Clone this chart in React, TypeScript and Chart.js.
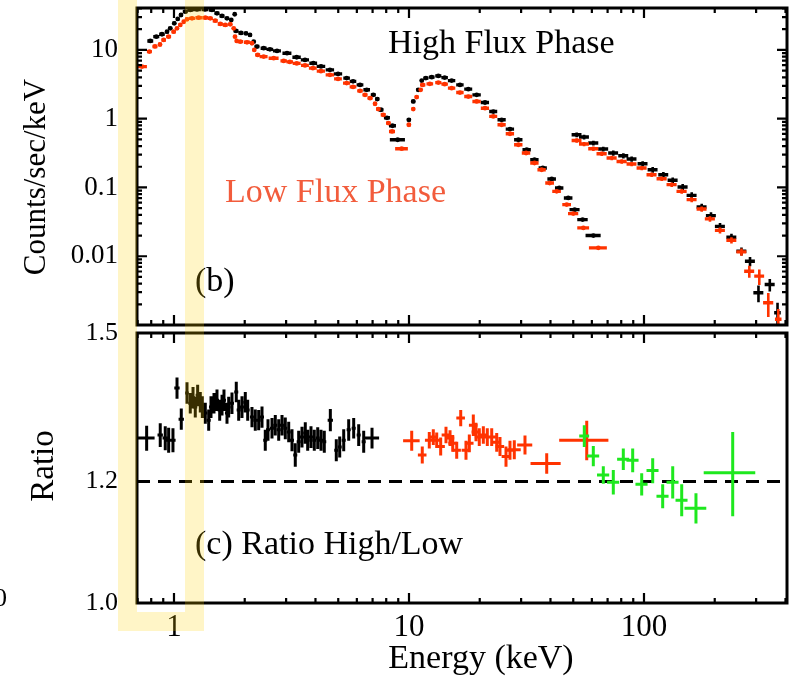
import React, { useEffect, useRef } from "react";
import { Chart, registerables } from "chart.js";

Chart.register(...registerables);

const FONT = "'Liberation Serif', 'Times New Roman', serif";
const BLACK = "#000000";
const RED = "#ff3300";
const GREEN = "#1ee81e";
const LABEL_RED = "#f25c3c";

// ---------------- axes ----------------
const xMin = 0.696;
const xMax = 406;
const yTopMin = 0.001;
const yTopMax = 40.7;
const ratioMin = 1.0;
const ratioMax = 1.5;
const xTickLabels = [1, 10, 100];
const yTopTickLabels = [0.01, 0.1, 1, 10];
const ratioTickLabels = [1.0, 1.2, 1.5];
const ratioRef = 1.2;

// ---------------- top panel: High Flux Phase (black) ----------------
// low-energy segment
const hiE1 = [0.793, 0.841, 0.889, 0.934, 0.964, 1.003, 1.037, 1.071, 1.117, 1.173, 1.253, 1.355, 1.451, 1.524, 1.601, 1.681, 1.753, 1.813, 1.836, 1.928, 2.025, 2.106, 2.184, 2.255, 2.408, 2.56, 2.744, 3.027, 3.327, 3.61, 3.915, 4.223, 4.61, 4.99, 5.43, 5.78, 6.19, 6.61, 7.05, 7.33, 7.6, 8.06, 8.51, 8.95];
const hiV1 = [13.5, 15.6, 16.9, 18.4, 20.6, 24.4, 28.2, 32.2, 36.0, 38.1, 38.8, 38.8, 38.1, 34.1, 31.2, 28.8, 27.25, 33.0, 18.9, 17.65, 17.4, 16.5, 13.2, 11.2, 10.6, 10.2, 9.67, 8.96, 7.83, 7.16, 6.41, 5.76, 5.13, 4.48, 3.89, 3.49, 3.1, 2.63, 2.22, 1.93, 1.35, 1.03, 0.789, 0.494];
const hiDE1 = [0.023, 0.025, 0.024, 0.018, 0.019, 0.018, 0.017, 0.021, 0.027, 0.034, 0.049, 0.046, 0.043, 0.037, 0.039, 0.036, 0.026, 0.018, 0.045, 0.047, 0.04, 0.037, 0.036, 0.055, 0.071, 0.083, 0.108, 0.133, 0.137, 0.145, 0.15, 0.178, 0.19, 0.205, 0.176, 0.187, 0.206, 0.214, 0.173, 0.144, 0.186, 0.237, 0.292, 0.66];
// middle segment
const hiE2 = [9.99, 10.43, 10.95, 11.33, 11.8, 12.5, 13.33, 14.19, 15.19, 16.48, 17.88, 19.41, 21.06, 22.84, 24.8, 26.9, 29.2, 31.7, 34.2, 37.1, 40.5, 43.6, 47.6, 50.7, 54.8, 60.9];
const hiV2 = [0.964, 1.78, 2.63, 3.58, 3.89, 4.02, 4.19, 3.96, 3.58, 3.1, 2.69, 2.22, 1.72, 1.27, 0.964, 0.706, 0.494, 0.354, 0.253, 0.192, 0.133, 0.0983, 0.0704, 0.0476, 0.0341, 0.02];
const hiDE2 = [0.2, 0.2, 0.2, 0.2, 0.3, 0.35, 0.4, 0.45, 0.55, 0.6, 0.7, 0.8, 0.85, 0.9, 1.0, 1.1, 1.2, 1.3, 1.4, 1.5, 1.7, 1.8, 2.0, 2.5, 2.8, 4.5];
// high-energy segment
const hiE3 = [51.7, 55.6, 60.9, 67.1, 74.0, 81.7, 88.6, 98.7, 108.9, 120.9, 132.5, 146.1, 159.6, 176.0, 192.8, 210.6, 235.6, 259.9, 282.6, 307, 343, 370];
const hiV3 = [0.584, 0.541, 0.443, 0.362, 0.317, 0.289, 0.259, 0.2215, 0.1813, 0.1534, 0.127, 0.1017, 0.0768, 0.0521, 0.039, 0.0272, 0.01887, 0.01182, 0.00846, 0.00294, 0.00388, 0.00151];
const hiDE3 = [2.5, 2.7, 3.0, 3.3, 3.6, 4.0, 4.3, 4.8, 5.3, 5.9, 6.5, 7.2, 7.8, 8.6, 9.4, 10.3, 11.5, 12.7, 13.8, 15.0, 16.8, 12.0];
const hiDV3 = [0.045, 0.042, 0.035, 0.03, 0.027, 0.025, 0.023, 0.02, 0.017, 0.015, 0.013, 0.011, 0.0085, 0.006, 0.0046, 0.0033, 0.0024, 0.0016, 0.0013, 0.0008, 0.0008, 0.0006];

// ---------------- top panel: Low Flux Phase (red) ----------------
const loE1 = [0.731, 0.786, 0.83, 0.872, 0.904, 0.949, 0.997, 1.03, 1.064, 1.1, 1.136, 1.193, 1.274, 1.359, 1.427, 1.498, 1.574, 1.653, 1.736, 1.795, 1.818, 1.848, 1.915, 2.045, 2.147, 2.196, 2.271, 2.408, 2.657, 2.93, 3.11, 3.33, 3.61, 3.9, 4.22, 4.61, 4.99, 5.43, 5.78, 6.19, 6.5, 6.83, 7.17, 7.4, 7.77, 8.17, 8.47, 9.31];
const loV1 = [5.72, 9.45, 11.24, 12.0, 13.97, 15.6, 18.4, 20.6, 23.1, 25.7, 27.9, 28.8, 29.4, 29.4, 28.8, 26.6, 23.85, 23.06, 23.6, 20.6, 15.6, 13.5, 13.2, 12.9, 12.5, 10.0, 8.46, 7.99, 7.58, 6.92, 6.7, 6.37, 5.96, 5.43, 4.91, 4.34, 3.79, 3.29, 2.9, 2.54, 2.22, 1.99, 1.65, 1.38, 1.14, 0.863, 0.652, 0.366];
const loDE1 = [0.036, 0.019, 0.02, 0.017, 0.019, 0.023, 0.02, 0.017, 0.018, 0.018, 0.022, 0.035, 0.041, 0.04, 0.035, 0.037, 0.039, 0.04, 0.034, 0.018, 0.014, 0.027, 0.056, 0.06, 0.032, 0.032, 0.056, 0.094, 0.13, 0.092, 0.1, 0.13, 0.14, 0.15, 0.17, 0.19, 0.19, 0.19, 0.19, 0.17, 0.16, 0.17, 0.14, 0.15, 0.19, 0.18, 0.25, 0.58];
const loE2 = [9.99, 10.43, 10.78, 11.22, 11.44, 12.27, 13.33, 14.19, 15.19, 16.48, 17.88, 19.41, 21.06, 22.84, 24.8, 26.9, 29.2, 31.5, 34.2, 36.7, 39.7, 42.5, 46.9, 50.0, 55.2, 63.9];
const loV2 = [0.816, 1.38, 2.06, 2.63, 3.1, 3.21, 3.35, 3.18, 2.78, 2.4, 2.1, 1.78, 1.42, 1.08, 0.816, 0.604, 0.418, 0.317, 0.227, 0.181, 0.116, 0.0878, 0.0563, 0.0417, 0.0258, 0.01324];
const loDE2 = [0.2, 0.17, 0.2, 0.12, 0.3, 0.4, 0.4, 0.45, 0.55, 0.6, 0.7, 0.8, 0.85, 0.9, 1.0, 1.1, 1.2, 1.3, 1.4, 1.5, 1.7, 1.8, 2.0, 2.5, 3.2, 5.6];
const loE3 = [51.7, 55.6, 60.9, 66.1, 72.9, 80.4, 88.6, 97.8, 107.8, 119.0, 131.2, 144.7, 159.6, 176.0, 190.9, 210.6, 235.6, 259.9, 280.6, 309.5, 338, 372.8];
const loV3 = [0.483, 0.428, 0.366, 0.309, 0.268, 0.239, 0.219, 0.192, 0.1534, 0.1342, 0.1098, 0.0878, 0.0665, 0.0487, 0.0349, 0.0238, 0.01707, 0.01158, 0.00606, 0.00513, 0.00211, 0.00121];
const loDE3 = [2.5, 2.7, 3.0, 3.3, 3.6, 4.0, 4.3, 4.8, 5.3, 5.9, 6.5, 7.2, 7.8, 8.6, 9.4, 10.3, 11.5, 12.7, 13.8, 15.0, 16.8, 12.0];
const loDV3 = [0.035, 0.031, 0.027, 0.023, 0.02, 0.018, 0.016, 0.014, 0.012, 0.01, 0.0085, 0.007, 0.0055, 0.0042, 0.0032, 0.0024, 0.0018, 0.0014, 0.0012, 0.0013, 0.0008, 0.0005];

// ---------------- bottom panel: Ratio High/Low ----------------
const rE1 = [0.765, 0.874, 0.918, 0.949, 0.99, 1.03, 1.074, 1.136, 1.173, 1.205, 1.232, 1.261, 1.294, 1.32, 1.359, 1.405, 1.437, 1.48, 1.524, 1.565, 1.601, 1.632, 1.681, 1.709, 1.765, 1.841, 1.885, 1.947, 2.011, 2.059, 2.147, 2.218, 2.293, 2.369, 2.446, 2.512, 2.612, 2.698, 2.79, 2.882, 2.976, 3.077, 3.178, 3.282, 3.393, 3.505, 3.62, 3.706, 3.828, 3.954, 4.089, 4.223, 4.361, 4.627, 4.905, 5.072, 5.275, 5.539, 5.817, 6.109, 6.416, 6.961];
const rR1 = [1.281, 1.287, 1.281, 1.277, 1.277, 1.381, 1.318, 1.371, 1.35, 1.361, 1.342, 1.366, 1.352, 1.342, 1.33, 1.316, 1.342, 1.35, 1.356, 1.336, 1.346, 1.356, 1.33, 1.342, 1.35, 1.373, 1.336, 1.342, 1.352, 1.336, 1.322, 1.316, 1.316, 1.322, 1.277, 1.297, 1.3, 1.306, 1.297, 1.306, 1.3, 1.293, 1.277, 1.249, 1.274, 1.283, 1.291, 1.277, 1.283, 1.277, 1.281, 1.277, 1.274, 1.316, 1.258, 1.264, 1.277, 1.297, 1.3, 1.287, 1.274, 1.281];
const rDE1 = [0.062, 0.023, 0.024, 0.025, 0.026, 0.027, 0.028, 0.02, 0.023, 0.024, 0.024, 0.025, 0.025, 0.026, 0.027, 0.028, 0.028, 0.029, 0.03, 0.031, 0.031, 0.032, 0.033, 0.033, 0.035, 0.036, 0.037, 0.038, 0.039, 0.04, 0.042, 0.043, 0.045, 0.046, 0.048, 0.049, 0.051, 0.053, 0.055, 0.056, 0.058, 0.06, 0.062, 0.064, 0.066, 0.069, 0.071, 0.073, 0.075, 0.077, 0.08, 0.083, 0.085, 0.12, 0.096, 0.099, 0.103, 0.109, 0.114, 0.12, 0.126, 0.5];
const rDR1 = [0.024, 0.023, 0.023, 0.024, 0.023, 0.022, 0.021, 0.022, 0.021, 0.022, 0.021, 0.022, 0.021, 0.022, 0.021, 0.021, 0.022, 0.021, 0.022, 0.021, 0.021, 0.022, 0.021, 0.021, 0.022, 0.021, 0.021, 0.022, 0.021, 0.021, 0.02, 0.021, 0.02, 0.021, 0.02, 0.021, 0.02, 0.02, 0.021, 0.02, 0.021, 0.02, 0.021, 0.022, 0.021, 0.02, 0.021, 0.02, 0.021, 0.02, 0.021, 0.02, 0.021, 0.022, 0.021, 0.02, 0.021, 0.021, 0.02, 0.021, 0.021, 0.02];
const rE2 = [10.27, 11.39, 12.2, 12.69, 13.12, 13.64, 14.37, 14.95, 15.35, 15.96, 16.6, 17.48, 18.06, 18.78, 19.28, 19.91, 20.72, 21.54, 22.49, 23.62, 24.39, 25.87, 26.9, 28.06, 31.16, 38.55, 57.06];
const rR2 = [1.276, 1.249, 1.277, 1.283, 1.277, 1.265, 1.287, 1.281, 1.271, 1.258, 1.32, 1.258, 1.271, 1.306, 1.293, 1.283, 1.287, 1.283, 1.283, 1.273, 1.265, 1.246, 1.258, 1.259, 1.268, 1.233, 1.277];
const rDE2 = [0.83, 0.48, 0.51, 0.53, 0.55, 0.57, 0.6, 0.63, 0.64, 0.67, 0.7, 0.73, 0.76, 0.79, 0.81, 0.84, 0.87, 0.9, 0.94, 0.99, 1.02, 1.09, 1.13, 1.83, 2.3, 5.65, 13.5];
const rDR2 = [0.019, 0.016, 0.016, 0.015, 0.015, 0.017, 0.016, 0.015, 0.016, 0.016, 0.016, 0.018, 0.017, 0.021, 0.018, 0.017, 0.017, 0.017, 0.017, 0.018, 0.018, 0.019, 0.018, 0.018, 0.018, 0.019, 0.038];
const rE3 = [55.72, 60.86, 67.12, 74.03, 81.65, 89.51, 97.77, 108.9, 120.1, 132.5, 144.7, 166.4, 238.5];
const rR3 = [1.285, 1.247, 1.212, 1.199, 1.241, 1.239, 1.195, 1.22, 1.174, 1.199, 1.167, 1.153, 1.216];
const rDE3 = [2.7, 3.6, 4.0, 4.4, 4.8, 5.3, 5.8, 6.4, 7.1, 7.8, 8.5, 17.7, 59];
const rDR3 = [0.021, 0.019, 0.016, 0.022, 0.02, 0.022, 0.02, 0.023, 0.021, 0.029, 0.028, 0.026, 0.077];

// ---------------- helpers ----------------
type P = { x: number; y: number | null };

function hSegs(E: number[], V: number[], dE: number[]): P[] {
  const out: P[] = [];
  for (let i = 0; i < E.length; i++) {
    out.push({ x: E[i] - dE[i], y: V[i] }, { x: E[i] + dE[i], y: V[i] }, { x: E[i], y: null });
  }
  return out;
}
function vSegs(E: number[], V: number[], dV: number[]): P[] {
  const out: P[] = [];
  for (let i = 0; i < E.length; i++) {
    const lo = Math.max(V[i] - dV[i], 1e-6);
    out.push({ x: E[i], y: lo }, { x: E[i], y: V[i] + dV[i] }, { x: E[i], y: null });
  }
  return out;
}
function barSet(data: P[], color: string, width: number, order: number) {
  return {
    type: "scatter",
    data,
    showLine: true,
    borderColor: color,
    backgroundColor: color,
    borderWidth: width,
    pointRadius: 0,
    pointHoverRadius: 0,
    spanGaps: false,
    fill: false,
    order,
  } as any;
}
function dotSet(E: number[], V: number[], color: string, r: number, order: number) {
  return {
    type: "scatter",
    data: E.map((x, i) => ({ x, y: V[i] })),
    showLine: false,
    pointRadius: r,
    pointHoverRadius: r,
    pointBackgroundColor: color,
    pointBorderWidth: 0,
    order,
  } as any;
}
function logTicks(min: number, max: number): Array<[number, boolean]> {
  const out: Array<[number, boolean]> = [];
  for (let d = Math.floor(Math.log10(min)); d <= Math.ceil(Math.log10(max)); d++) {
    for (let m = 1; m <= 9; m++) {
      const v = m * Math.pow(10, d);
      if (v >= min * 0.9999 && v <= max * 1.0001) out.push([v, m === 1]);
    }
  }
  return out;
}

type T = { t: string; x: number; y: number; size: number; color: string; rot?: boolean; align?: CanvasTextAlign };

function framePlugin(withYTicks: boolean, texts: T[]) {
  return {
    id: "frameTicks",
    afterDatasetsDraw(chart: any) {
      const { ctx, chartArea: a } = chart;
      const xs = chart.scales.x;
      const ys = chart.scales.y;
      ctx.save();
      ctx.strokeStyle = BLACK;
      ctx.lineWidth = 2.2;
      ctx.beginPath();
      for (const [v, major] of logTicks(xs.min, xs.max)) {
        const p = xs.getPixelForValue(v);
        const L = major ? 10 : 5;
        ctx.moveTo(p, a.bottom);
        ctx.lineTo(p, a.bottom - L);
        ctx.moveTo(p, a.top);
        ctx.lineTo(p, a.top + L);
      }
      if (withYTicks) {
        for (const [v, major] of logTicks(ys.min, ys.max)) {
          const p = ys.getPixelForValue(v);
          const L = major ? 10 : 5;
          ctx.moveTo(a.left, p);
          ctx.lineTo(a.left + L, p);
          ctx.moveTo(a.right, p);
          ctx.lineTo(a.right - L, p);
        }
      }
      ctx.stroke();
      ctx.lineWidth = 3;
      ctx.strokeRect(a.left, a.top, a.right - a.left, a.bottom - a.top);
      for (const s of texts) {
        ctx.font = `${s.size}px ${FONT}`;
        ctx.fillStyle = s.color;
        ctx.textBaseline = "alphabetic";
        if (s.rot) {
          ctx.save();
          ctx.translate(s.x, s.y);
          ctx.rotate(-Math.PI / 2);
          ctx.textAlign = "center";
          ctx.fillText(s.t, 0, 0);
          ctx.restore();
        } else {
          ctx.textAlign = s.align || "left";
          ctx.fillText(s.t, s.x, s.y);
        }
      }
      ctx.restore();
    },
  };
}

function overlayPlugin(rects: Array<[number, number, number, number]>) {
  return {
    id: "highlight",
    afterDraw(chart: any) {
      const ctx = chart.ctx;
      ctx.save();
      ctx.fillStyle = "rgba(255, 210, 0, 0.22)";
      for (const [x, y, w, h] of rects) ctx.fillRect(x, y, w, h);
      ctx.restore();
    },
  };
}

const TOP_H = 329;
const BOT_TOP = 310;
const BOT_H = 682 - BOT_TOP;

function topConfig(): any {
  const datasets = [
    barSet(hSegs(hiE1, hiV1, hiDE1), BLACK, 3.4, 2),
    dotSet(hiE1, hiV1, BLACK, 2.4, 2),
    barSet(hSegs(hiE2, hiV2, hiDE2), BLACK, 3.4, 2),
    dotSet(hiE2, hiV2, BLACK, 2.4, 2),
    barSet(hSegs(hiE3, hiV3, hiDE3), BLACK, 3.4, 2),
    barSet(vSegs(hiE3, hiV3, hiDV3), BLACK, 2.6, 2),
    barSet(hSegs(loE1, loV1, loDE1), RED, 3.4, 1),
    dotSet(loE1, loV1, RED, 2.4, 1),
    barSet(hSegs(loE2, loV2, loDE2), RED, 3.4, 1),
    dotSet(loE2, loV2, RED, 2.4, 1),
    barSet(hSegs(loE3, loV3, loDE3), RED, 3.4, 1),
    barSet(vSegs(loE3, loV3, loDV3), RED, 2.6, 1),
  ];
  const texts: T[] = [
    { t: "High Flux Phase", x: 388, y: 53, size: 34, color: BLACK },
    { t: "Low Flux Phase", x: 225, y: 202, size: 34, color: LABEL_RED },
    { t: "(b)", x: 195, y: 291, size: 34, color: BLACK },
    { t: "Counts/sec/keV", x: 45, y: 177, size: 31, color: BLACK, rot: true },
  ];
  return {
    type: "scatter",
    data: { datasets },
    options: {
      animation: false,
      responsive: false,
      maintainAspectRatio: false,
      events: [],
      layout: { padding: { left: 0, right: 3, top: 8, bottom: 4 } },
      plugins: { legend: { display: false }, tooltip: { enabled: false } },
      scales: {
        x: { type: "logarithmic", min: xMin, max: xMax, display: false },
        y: {
          type: "logarithmic",
          min: yTopMin,
          max: yTopMax,
          grid: { display: false, drawTicks: false },
          border: { display: false },
          afterBuildTicks: (s: any) => {
            s.ticks = yTopTickLabels.map((v) => ({ value: v }));
          },
          afterFit: (s: any) => {
            s.width = 137;
            s.paddingTop = 0;
            s.paddingBottom = 0;
          },
          ticks: {
            autoSkip: false,
            padding: 19,
            color: BLACK,
            font: { family: FONT, size: 27 },
            callback: (v: any) => String(v),
          },
        },
      },
    },
    plugins: [
      framePlugin(true, texts),
      overlayPlugin([
        [118, 0, 19, TOP_H],
        [185, 0, 19, TOP_H],
      ]),
    ],
  };
}

function bottomConfig(): any {
  const datasets = [
    barSet([{ x: xMin, y: ratioRef }, { x: xMax, y: ratioRef }], BLACK, 3, 5),
    barSet(hSegs(rE1, rR1, rDE1), BLACK, 3, 2),
    barSet(vSegs(rE1, rR1, rDR1), BLACK, 3, 2),
    barSet(hSegs(rE2, rR2, rDE2), RED, 3, 2),
    barSet(vSegs(rE2, rR2, rDR2), RED, 3, 2),
    barSet(hSegs(rE3, rR3, rDE3), GREEN, 3, 1),
    barSet(vSegs(rE3, rR3, rDR3), GREEN, 3, 1),
  ];
  datasets[0].borderDash = [13, 8];
  const off = BOT_TOP;
  const bandTop = TOP_H - off;
  const texts: T[] = [
    { t: "(c) Ratio High/Low", x: 195, y: 554 - off, size: 34, color: BLACK },
    { t: "Energy (keV)", x: 481, y: 668 - off, size: 34, color: BLACK, align: "center" },
    { t: "Ratio", x: 53, y: 466 - off, size: 33, color: BLACK, rot: true },
    { t: "0", x: -6, y: 606 - off, size: 26, color: BLACK },
  ];
  return {
    type: "scatter",
    data: { datasets },
    options: {
      animation: false,
      responsive: false,
      maintainAspectRatio: false,
      events: [],
      layout: { padding: { left: 0, right: 3, top: 333 - off, bottom: 0 } },
      plugins: { legend: { display: false }, tooltip: { enabled: false } },
      scales: {
        x: {
          type: "logarithmic",
          min: xMin,
          max: xMax,
          grid: { display: false, drawTicks: false },
          border: { display: false },
          afterBuildTicks: (s: any) => {
            s.ticks = xTickLabels.map((v) => ({ value: v }));
          },
          afterFit: (s: any) => {
            s.height = 79;
            s.paddingLeft = 0;
            s.paddingRight = 0;
          },
          ticks: {
            autoSkip: false,
            maxRotation: 0,
            padding: 6,
            color: BLACK,
            font: { family: FONT, size: 31 },
            callback: (v: any) => String(v),
          },
        },
        y: {
          type: "logarithmic",
          min: ratioMin,
          max: ratioMax,
          grid: { display: false, drawTicks: false },
          border: { display: false },
          afterBuildTicks: (s: any) => {
            s.ticks = ratioTickLabels.map((v) => ({ value: v }));
          },
          afterFit: (s: any) => {
            s.width = 137;
            s.paddingTop = 0;
            s.paddingBottom = 0;
          },
          ticks: {
            autoSkip: false,
            padding: 19,
            color: BLACK,
            font: { family: FONT, size: 26 },
            callback: (v: any) => Number(v).toFixed(1),
          },
        },
      },
    },
    plugins: [
      framePlugin(false, texts),
      overlayPlugin([
        [118, bandTop, 19, 612 - TOP_H],
        [185, bandTop, 19, 612 - TOP_H],
        [118, 612 - off, 86, 19],
      ]),
    ],
  };
}

export default function App() {
  const topRef = useRef<HTMLCanvasElement | null>(null);
  const botRef = useRef<HTMLCanvasElement | null>(null);
  useEffect(() => {
    Chart.defaults.font.family = FONT;
    const top = new Chart(topRef.current as HTMLCanvasElement, topConfig());
    const bot = new Chart(botRef.current as HTMLCanvasElement, bottomConfig());
    return () => {
      top.destroy();
      bot.destroy();
    };
  }, []);
  return (
    <div style={{ position: "fixed", left: 0, top: 0, width: 790, height: 682, background: "#ffffff", overflow: "hidden" }}>
      <canvas ref={topRef} width={790} height={TOP_H} style={{ position: "absolute", left: 0, top: 0, width: 790, height: TOP_H }} />
      <canvas ref={botRef} width={790} height={BOT_H} style={{ position: "absolute", left: 0, top: BOT_TOP, width: 790, height: BOT_H }} />
    </div>
  );
}
